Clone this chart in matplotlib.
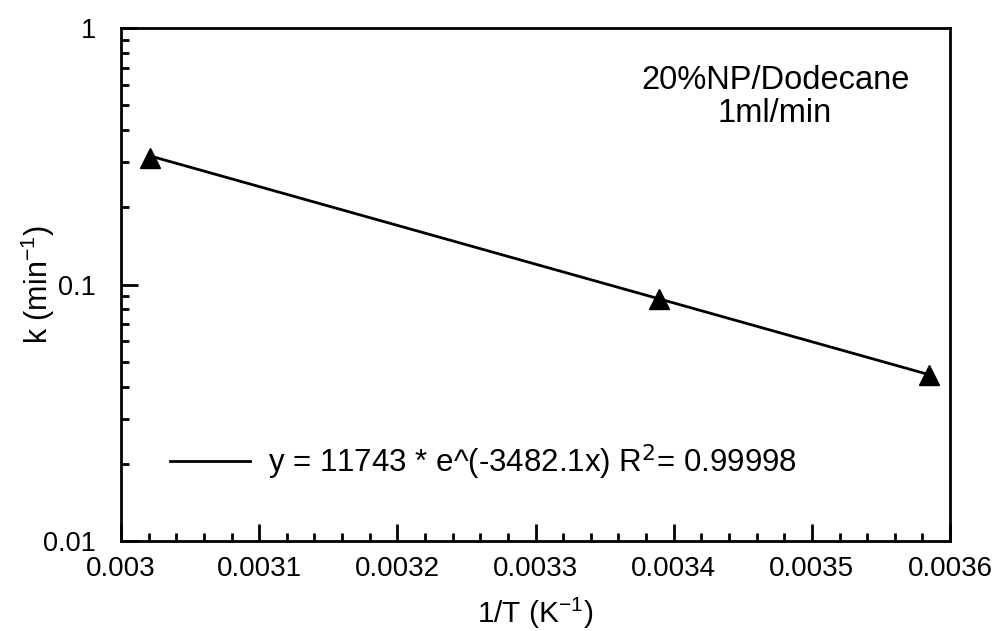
import matplotlib.pyplot as plt
import numpy as np
from matplotlib.ticker import LogLocator, FixedLocator, NullFormatter

plt.rcParams['font.family'] = ['Liberation Sans', 'DejaVu Sans']

# 数据点 (1/T, k)
inv_T = [0.003021, 0.003389, 0.003585]
k_val = [0.31, 0.088, 0.0445]

# 拟合参数
fit_A = 11743
fit_B = -3482.1
fit_label = 'y = 11743 * e^(-3482.1x) R$^2$= 0.99998'

x_ticks = [0.003, 0.0031, 0.0032, 0.0033, 0.0034, 0.0035, 0.0036]
x_tick_labels = ['0.003', '0.0031', '0.0032', '0.0033', '0.0034', '0.0035', '0.0036']
y_ticks = [0.01, 0.1, 1]
y_tick_labels = ['0.01', '0.1', '1']

fig = plt.figure(figsize=(9.97, 6.31), dpi=100)
ax = fig.add_axes([0.1214, 0.1426, 0.8315, 0.813])

# 拟合线
x_fit = np.linspace(inv_T[0], inv_T[-1], 100)
ax.plot(x_fit, fit_A * np.exp(fit_B * x_fit), color='black', lw=2, label=fit_label)
ax.plot(inv_T, k_val, linestyle='none', marker='^', color='black', markersize=14)

ax.set_yscale('log')
ax.set_xlim(0.003, 0.0036)
ax.set_ylim(0.01, 1)

ax.xaxis.set_major_locator(FixedLocator(x_ticks))
ax.set_xticklabels(x_tick_labels)
ax.xaxis.set_minor_locator(FixedLocator(np.arange(0.003, 0.00360001, 0.00002)))
ax.yaxis.set_major_locator(FixedLocator(y_ticks))
ax.set_yticklabels(y_tick_labels)
ax.yaxis.set_minor_locator(LogLocator(base=10, subs=np.arange(2, 10)))
ax.yaxis.set_minor_formatter(NullFormatter())

ax.tick_params(which='both', direction='in', width=2)
ax.tick_params(which='major', length=12)
ax.tick_params(which='minor', length=6)
ax.tick_params(axis='x', which='both', top=False, labelsize=20, pad=11)
ax.tick_params(axis='y', which='both', right=False, labelsize=19.5, pad=18)
for s in ax.spines.values():
    s.set_linewidth(2)

ax.set_xlabel('1/T (K$^{\\mathregular{-1}}$)', fontsize=21.5, labelpad=9)
ax.set_ylabel('k (min$^{\\mathregular{-1}}$)', fontsize=22)
ax.yaxis.set_label_coords(-0.077, 0.5)

ax.text(0.789, 0.865, '20%NP/Dodecane\n1ml/min', transform=ax.transAxes,
        ha='center', va='center', fontsize=23.5, linespacing=1.1)

ax.legend(loc='center left', bbox_to_anchor=(0.059, 0.154), frameon=False,
          fontsize=22.5, handlelength=2.56, handletextpad=0.58,
          borderpad=0, borderaxespad=0)

fig.savefig('out.png', dpi=100)
